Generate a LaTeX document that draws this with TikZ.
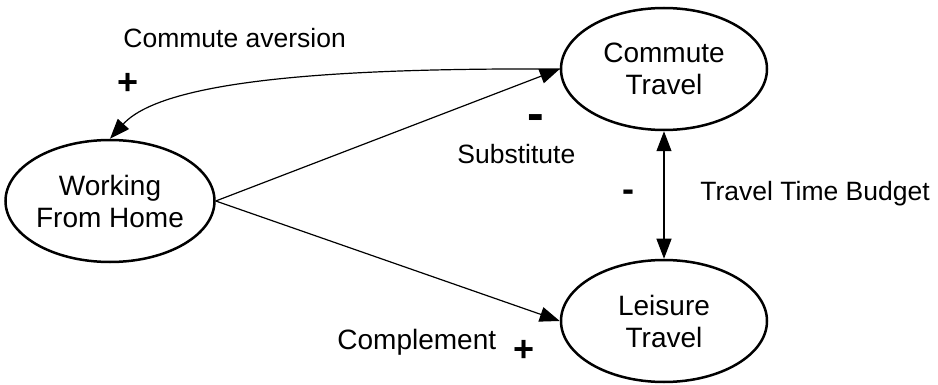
\documentclass[tikz,border=0pt]{standalone}
\usepackage{fontspec}
\setmainfont{Liberation Sans}
\usetikzlibrary{arrows.meta,shapes.geometric}
\begin{document}
\begin{tikzpicture}[x=0.5pt,y=-0.5pt,
  state/.style={ellipse,draw,line width=1.25pt,minimum width=103pt,minimum height=61pt,
    inner sep=0pt,align=center,font=\fontsize{14}{16}\selectfont},
  link/.style={line width=0.6pt,-{Triangle[length=10pt,width=7.5pt]}},
  lbl/.style={anchor=base west,inner sep=0pt,font=\fontsize{13.25}{16}\selectfont},
  sign/.style={inner sep=0pt,font=\fontsize{18}{20}\selectfont\bfseries}]
\useasboundingbox (0,0) rectangle (938,385);

\node[state] (w) at (110,201) {Working\\From Home};
\node[state] (c) at (664,69) {Commute\\Travel};
\node[state] (l) at (664,321) {Leisure\\Travel};

\draw[link] (c.west) .. controls (350,68) and (165,78) .. (w.north);
\draw[link] (w.east) -- (c.west);
\draw[link] (w.east) -- (l.west);
\draw[line width=0.6pt,{Triangle[length=10pt,width=7.5pt]}-{Triangle[length=10pt,width=7.5pt]}] (c.south) -- (l.north);

\node[lbl] (ca) at (123,48) {Commute aversion};
\node[sign] (p1) at (128,84) {+};
\node[sign,font=\fontsize{25}{28}\selectfont\bfseries] (m1) at (536,123) {-};
\node[lbl] (sub) at (457,163) {Substitute};
\node[sign] (m2) at (628,196) {-};
\node[lbl] (ttb) at (700,200) {Travel Time Budget};
\node[lbl,font=\fontsize{14}{16}\selectfont] (comp) at (337,350) {Complement};
\node[sign] (p2) at (524,351) {+};
\end{tikzpicture}
\end{document}
